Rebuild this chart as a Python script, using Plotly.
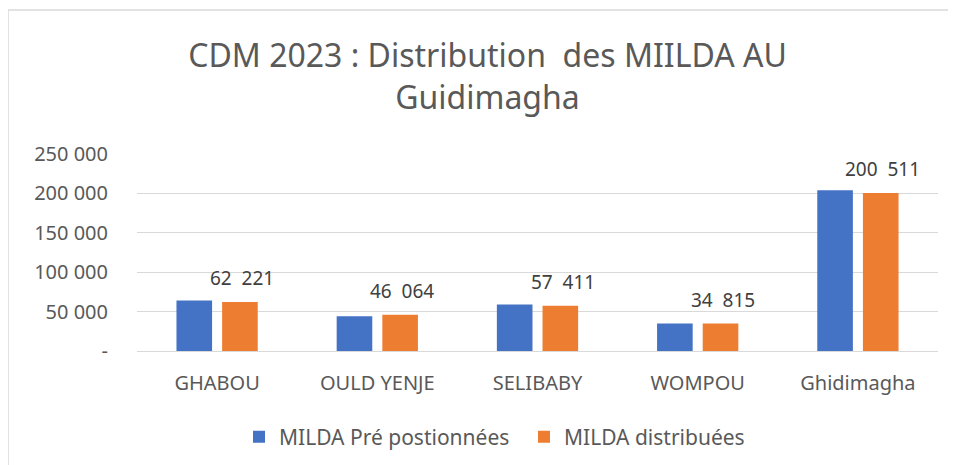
import plotly.graph_objects as go

categories = ["GHABOU", "OULD YENJE", "SELIBABY", "WOMPOU", "Ghidimagha"]
pre_positionnees = [64000, 44000, 59000, 35000, 204000]
distribuees = [62221, 46064, 57411, 34815, 200511]
tick_values = [0, 50000, 100000, 150000, 200000, 250000]
tick_labels = ["-", "50 000", "100 000", "150 000", "200 000", "250 000"]
series_names = ["MILDA Pré postionnées", "MILDA distribuées"]

OFF = 8  # page body margin
W, H = 956 - OFF, 465 - OFF
# target screen positions of the plot area
PL, PR, PT, PB = 137, 938, 154, 351
ML, MR, MT, MB = PL - OFF, W - (PR - OFF), PT - OFF, H - (PB - OFF)
pw, ph = W - ML - MR, H - MT - MB

def fmt(v):
    return f"{v:,}".replace(",", " ")

font_family = "Noto Sans, Open Sans, sans-serif"
grey = "#595959"

fig = go.Figure()
fig.add_trace(go.Bar(x=categories, y=pre_positionnees, name=series_names[0],
                     marker=dict(color="#4472C4", line=dict(width=0))))
fig.add_trace(go.Bar(x=categories, y=distribuees, name=series_names[1],
                     marker=dict(color="#ED7D31", line=dict(width=0))))

for c, v in zip(categories, distribuees):
    fig.add_annotation(x=c, y=v, xref="x", yref="y", text=fmt(v).replace(" ", "&nbsp;&nbsp;"),
                       showarrow=False, yanchor="bottom", yshift=9, xshift=25,
                       font=dict(family=font_family, size=19, color="#404040"))

# outer chart border (left and top), screen coords
x_px = lambda p: (p - OFF - ML) / pw
y_px = lambda p: (H - MB - (p - OFF)) / ph
fig.add_shape(type="line", xref="paper", yref="paper", x0=x_px(8), x1=x_px(W + 20),
              y0=y_px(10), y1=y_px(10), line=dict(color="#D9D9D9", width=1.5))
fig.add_shape(type="line", xref="paper", yref="paper", x0=x_px(8), x1=x_px(8),
              y0=y_px(10), y1=y_px(H + 20), line=dict(color="#D9D9D9", width=1.5))

fig.update_layout(
    width=W, height=H,
    margin=dict(l=ML, r=MR, t=MT, b=MB, autoexpand=False),
    paper_bgcolor="white", plot_bgcolor="white",
    barmode="group", bargap=0.43, bargroupgap=0.22,
    title=dict(text="CDM 2023 : Distribution  des MIILDA AU<br>Guidimagha",
               x=(487.5 - OFF) / W, xanchor="center", xref="container",
               y=1 - (79 - OFF - 12) / H, yanchor="middle",
               font=dict(family=font_family, size=32, color=grey)),
    font=dict(family=font_family, color=grey),
    showlegend=True,
    legend=dict(orientation="h", x=(254 - OFF - 15) / W, xref="container", xanchor="left",
                y=1 - (437 - OFF) / H, yref="container", yanchor="middle",
                font=dict(family=font_family, size=21, color=grey),
                itemwidth=30, entrywidth=240, traceorder="normal"),
    xaxis=dict(showgrid=False, showline=False, ticks="", automargin=False,
               ticklabelstandoff=18,
               tickfont=dict(family=font_family, size=20, color=grey)),
    yaxis=dict(range=[0, 250000], tickvals=tick_values, ticktext=tick_labels,
               showgrid=True, gridcolor="#D9D9D9", gridwidth=1.3, automargin=False,
               zeroline=True, zerolinecolor="#D9D9D9", zerolinewidth=1.3,
               ticks="", ticklabelstandoff=28, showline=False,
               tickfont=dict(family=font_family, size=20, color=grey)),
)

fig.write_html("out.html")
